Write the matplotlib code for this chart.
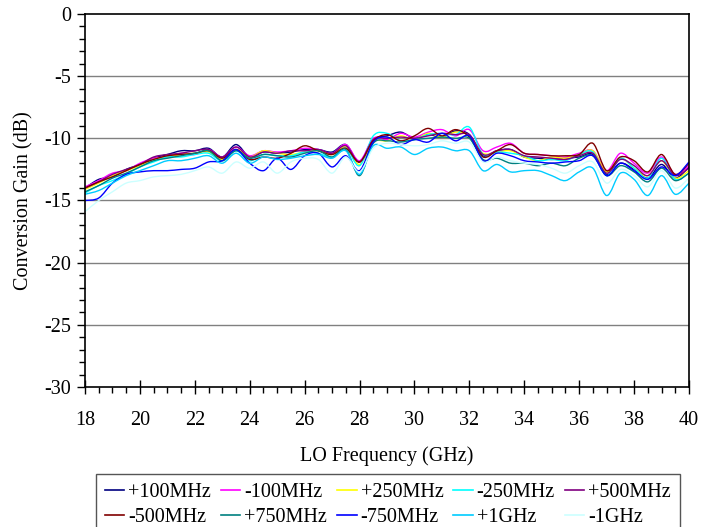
import numpy as np
import matplotlib.pyplot as plt
from matplotlib.path import Path
from matplotlib.patches import PathPatch
from matplotlib.lines import Line2D
from matplotlib.ticker import MultipleLocator

plt.rcParams['font.family'] = ['Liberation Serif', 'DejaVu Serif']
plt.rcParams['axes.unicode_minus'] = False

# LO frequency (GHz), 0.5 GHz steps
freq = np.arange(18.0, 40.01, 0.5)

labels = ['+100MHz', '-100MHz', '+250MHz', '-250MHz', '+500MHz',
          '-500MHz', '+750MHz', '-750MHz', '+1GHz', '-1GHz']
colors = ['#000080', '#FF00FF', '#FFFF00', '#00FFFF', '#800080',
          '#800000', '#008080', '#0000FF', '#00CCFF', '#CCFFFF']

# conversion gain (dB) per IF offset
g_p100 = [-14.0, -13.3, -13.1, -12.5, -12.1, -11.6, -11.3, -11.0, -11.0, -10.8, -11.5, -10.5, -11.5, -11.1, -11.2,
          -11.1, -10.9, -10.9, -11.1, -10.5, -11.9, -10.1, -9.8, -9.5, -10.0, -9.7, -9.9, -9.4, -9.7, -11.4,
          -11.0, -10.9, -11.5, -11.6, -11.7, -11.6, -11.5, -11.3, -12.9, -12.0, -12.5, -13.2, -12.1, -13.2, -12.3]
g_m100 = [-13.9, -13.4, -12.8, -12.6, -12.0, -11.6, -11.5, -11.2, -11.3, -10.9, -11.5, -10.7, -11.4, -11.0, -11.1,
          -11.0, -10.8, -10.9, -11.2, -10.5, -11.8, -10.0, -10.1, -9.6, -9.9, -9.5, -9.3, -9.8, -9.3, -11.0,
          -10.7, -10.4, -11.2, -11.3, -11.4, -11.5, -11.2, -11.0, -12.6, -11.2, -12.0, -12.8, -11.5, -12.9, -12.2]
g_p250 = [-14.1, -13.6, -13.0, -12.6, -12.2, -11.7, -11.5, -11.3, -11.2, -11.1, -11.7, -10.9, -11.5, -11.0, -11.2,
          -11.3, -11.1, -11.0, -11.3, -10.7, -12.1, -10.3, -10.2, -9.8, -10.1, -9.6, -9.9, -9.5, -9.8, -11.2,
          -11.1, -11.0, -11.5, -11.8, -11.5, -11.6, -11.3, -11.0, -12.7, -11.6, -12.4, -13.0, -11.8, -13.2, -12.6]
g_m250 = [-14.4, -13.8, -13.4, -12.9, -12.3, -11.9, -11.5, -11.5, -11.3, -11.2, -11.8, -11.0, -11.8, -11.3, -11.4,
          -11.4, -11.1, -11.2, -11.5, -10.8, -12.2, -9.8, -9.6, -10.2, -10.1, -9.7, -9.6, -9.7, -9.1, -11.3,
          -11.1, -11.2, -11.4, -11.8, -11.7, -11.8, -11.3, -11.1, -13.0, -11.6, -12.4, -13.2, -11.6, -13.3, -12.8]
g_p500 = [-14.0, -13.5, -12.9, -12.5, -12.1, -11.5, -11.3, -11.2, -11.0, -10.9, -11.5, -10.7, -11.5, -11.1, -11.2,
          -11.0, -11.0, -10.9, -11.2, -10.6, -11.9, -10.1, -10.0, -9.9, -10.0, -9.8, -9.6, -9.7, -9.7, -11.3,
          -11.0, -10.9, -11.4, -11.5, -11.6, -11.7, -11.4, -11.2, -12.8, -11.7, -12.2, -13.0, -11.8, -13.0, -12.4]
g_m500 = [-14.0, -13.5, -13.1, -12.6, -12.1, -11.7, -11.4, -11.3, -11.2, -11.0, -11.6, -10.9, -11.7, -11.5, -11.6,
          -11.2, -10.6, -11.0, -11.3, -10.8, -11.9, -10.2, -9.7, -10.2, -9.8, -9.2, -9.8, -9.3, -9.9, -11.5,
          -11.0, -10.5, -11.2, -11.3, -11.4, -11.4, -11.3, -10.4, -12.6, -11.5, -11.8, -12.7, -11.3, -12.9, -12.0]
g_p750 = [-14.3, -13.8, -13.2, -12.8, -12.3, -11.8, -11.6, -11.4, -11.2, -11.0, -11.8, -11.0, -11.6, -11.3, -11.4,
          -11.5, -11.2, -11.0, -11.5, -10.9, -13.0, -10.4, -10.2, -10.3, -10.1, -10.0, -9.9, -10.0, -10.0, -11.7,
          -11.6, -12.0, -12.0, -12.2, -12.0, -12.2, -11.6, -11.4, -13.0, -12.2, -12.7, -13.5, -12.4, -13.4, -12.8]
g_m750 = [-15.0, -14.8, -13.6, -12.9, -12.7, -12.6, -12.6, -12.5, -12.4, -11.9, -11.8, -10.9, -12.0, -12.6, -11.6,
          -12.5, -11.4, -11.2, -12.3, -11.4, -12.6, -10.3, -9.9, -10.5, -10.1, -10.3, -9.6, -10.2, -9.8, -11.8,
          -11.2, -11.4, -11.8, -11.9, -12.0, -11.9, -11.8, -11.4, -13.0, -12.0, -12.6, -13.3, -12.3, -13.0, -11.9]
g_p1g = [-14.5, -14.2, -13.6, -13.0, -12.6, -12.2, -11.8, -11.8, -11.6, -11.4, -12.0, -11.2, -12.0, -11.5, -11.7,
         -11.6, -11.4, -11.3, -11.6, -11.0, -12.9, -10.6, -10.8, -10.7, -11.3, -10.8, -10.7, -11.0, -11.0, -12.6,
         -12.1, -12.7, -12.6, -12.6, -13.0, -13.4, -12.7, -12.4, -14.6, -12.8, -13.3, -14.6, -13.0, -14.5, -13.6]
g_m1g = [-15.9, -15.0, -14.3, -13.6, -13.4, -13.1, -13.0, -12.9, -12.6, -12.3, -12.8, -11.9, -12.4, -11.9, -12.8,
         -11.9, -11.6, -11.7, -12.8, -11.5, -12.7, -10.8, -10.4, -10.5, -10.6, -10.5, -10.2, -10.4, -10.3, -11.9,
         -11.5, -11.8, -12.0, -12.1, -12.4, -12.8, -12.2, -11.9, -13.6, -12.5, -13.0, -13.9, -12.6, -14.0, -13.2]

series = [g_p100, g_m100, g_p250, g_m250, g_p500, g_m500, g_p750, g_m750, g_p1g, g_m1g]


def smooth_path(x, y, t=1.0 / 6):
    # Catmull-Rom style bezier through the data points (like spreadsheet "smoothed line")
    pts = np.column_stack([x, y])
    verts = [pts[0]]
    codes = [Path.MOVETO]
    n = len(pts)
    for i in range(n - 1):
        p0 = pts[max(i - 1, 0)]
        p1 = pts[i]
        p2 = pts[i + 1]
        p3 = pts[min(i + 2, n - 1)]
        c1 = p1 + (p2 - p0) * t
        c2 = p2 - (p3 - p1) * t
        verts += [c1, c2, p2]
        codes += [Path.CURVE4] * 3
    return Path(verts, codes)


fs = 14.5
fig = plt.figure(figsize=(7.15, 5.27), dpi=100)
ax = fig.add_axes([0.1189, 0.2657, 0.8447, 0.7077])

for yy in [-5, -10, -15, -20, -25]:
    ax.axhline(yy, color='#808080', lw=1.0, zorder=1)

handles = []
for vals, lab, col in zip(series, labels, colors):
    patch = PathPatch(smooth_path(freq, np.array(vals)), facecolor='none',
                      edgecolor=col, lw=1.0, zorder=2)
    ax.add_patch(patch)
    handles.append(Line2D([], [], color=col, lw=1.2))

ax.set_xlim(18, 40)
ax.set_ylim(-30, 0)
ax.xaxis.set_major_locator(MultipleLocator(2))
ax.xaxis.set_minor_locator(MultipleLocator(0.5))
ax.yaxis.set_major_locator(MultipleLocator(5))
ax.yaxis.set_minor_locator(MultipleLocator(1))
ax.tick_params(axis='x', which='major', direction='inout', length=10, width=1.0, labelsize=fs, pad=12)
ax.tick_params(axis='x', which='minor', direction='out', length=4, width=1.0)
ax.tick_params(axis='y', which='major', direction='out', length=6, width=1.0, labelsize=fs, pad=4)
ax.tick_params(axis='y', which='minor', direction='out', length=4, width=1.0)
for s in ax.spines.values():
    s.set_linewidth(1.2)

ax.set_xlabel('LO Frequency (GHz)', fontsize=fs, labelpad=12)
ax.set_ylabel('Conversion Gain (dB)', fontsize=fs, labelpad=8)

# legend fills column by column, so order entries to read row by row
order = [0, 5, 1, 6, 2, 7, 3, 8, 4, 9]
fig.legend([handles[i] for i in order], [labels[i] for i in order],
           loc='upper center', bbox_to_anchor=(0.5427, 0.1006),
           ncol=5, fontsize=fs, frameon=True, fancybox=False, edgecolor='#555555',
           handlelength=0.95, handletextpad=0.2, columnspacing=0.5,
           borderpad=0.45, borderaxespad=0, labelspacing=0.3, framealpha=1)

fig.savefig('out.png', dpi=100)
